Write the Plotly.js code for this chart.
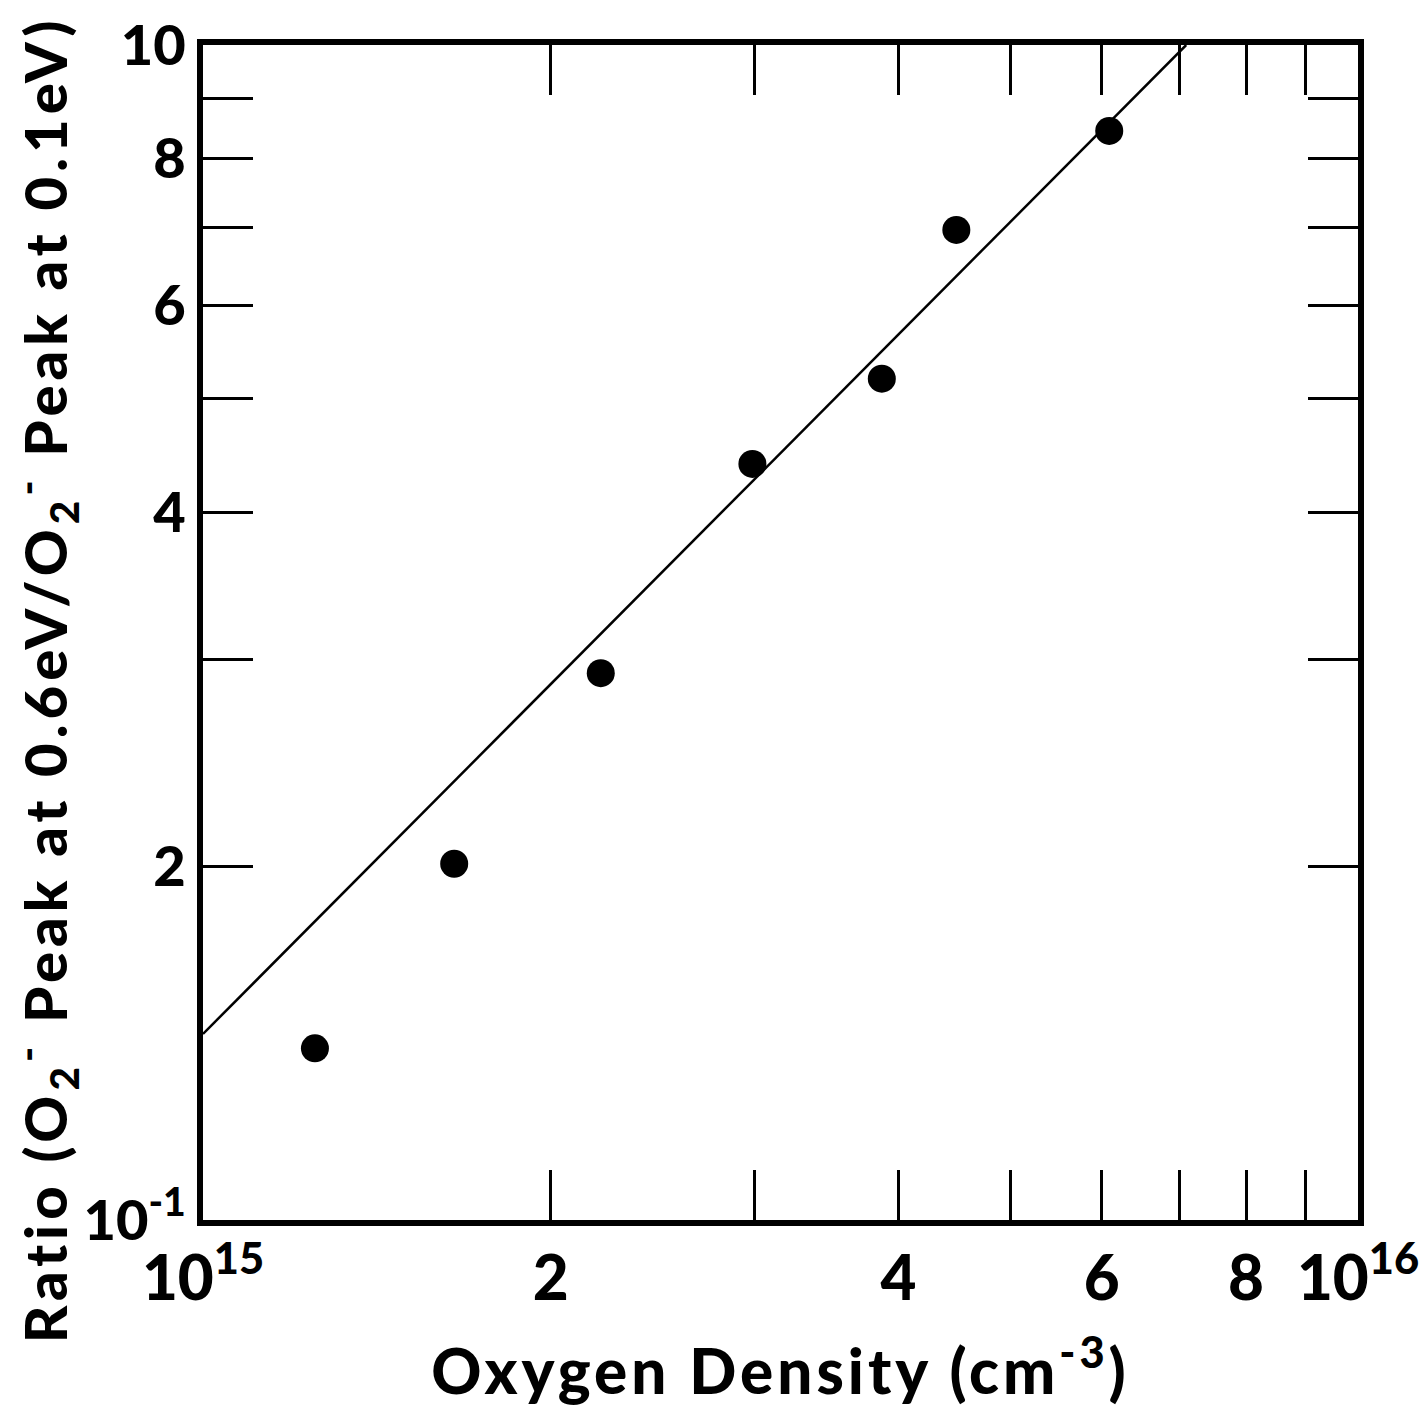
<!DOCTYPE html>
<html>
<head>
<meta charset="utf-8">
<script src="https://cdn.plot.ly/plotly-3.0.1.min.js"></script>
<style>
html, body { margin: 0; padding: 0; background: #fff; }
#chart { width: 1428px; height: 1407px; }
.xtitle { letter-spacing: 4px; }
.annotation-text { letter-spacing: 5px; }
</style>
</head>
<body>
<div id="chart"></div>
<script>
// Measured data (oxygen density in cm^-3, ratio)
const densityPoints = [1.25e15, 1.65e15, 2.21e15, 2.99e15, 3.87e15, 4.49e15, 6.09e15];
const ratioPoints   = [1.40,    2.01,    2.92,    4.40,    5.20,    6.96,    8.45];

// Fitted straight line (log-log)
const fitDensity = [1.0e15, 7.1e15];
const fitRatio   = [1.44, 10.0];

// Tick positions and labels
const xTickVals = [1e15, 2e15, 4e15, 6e15, 8e15, 1e16];
const xTickText = ['10<sup>15</sup>', '2', '4', '6', '8', '10<sup>16</sup>'];
const xMinorVals = [3e15, 5e15, 7e15, 9e15];
const yTickVals = [1, 2, 4, 6, 8, 10];
const yTickText = ['10<sup>-1</sup>', '2', '4', '6', '8', '10'];
const yMinorVals = [3, 5, 7, 9];

const xTitle = 'Oxygen Density (cm<sup>-3</sup>)';
const yTitle = 'Ratio (O<sub>2</sub><sup>-</sup> Peak at 0.6eV/O<sub>2</sub><sup>-</sup> Peak at 0.1eV)';

const FONT = 'Lato, "DejaVu Sans", sans-serif';

const traces = [
  {
    x: fitDensity, y: fitRatio, type: 'scatter', mode: 'lines',
    line: { color: '#000', width: 2.5 }, hoverinfo: 'skip', cliponaxis: true
  },
  {
    x: densityPoints, y: ratioPoints, type: 'scatter', mode: 'markers',
    marker: { color: '#000', size: 28, symbol: 'circle' }
  }
];

const tickStyle = { ticks: 'inside', ticklen: 50, tickwidth: 3, tickcolor: '#000' };

const layout = {
  width: 1428, height: 1407,
  paper_bgcolor: '#fff', plot_bgcolor: '#fff',
  showlegend: false,
  margin: { l: 203, r: 70, t: 45, b: 187 },
  font: { family: FONT, color: '#000', weight: 'bold' },
  xaxis: {
    type: 'log',
    range: [15, 16],
    tickmode: 'array', tickvals: xTickVals, ticktext: xTickText,
    ticks: 'inside', ticklen: 50, tickwidth: 3, tickcolor: '#000',
    minor: Object.assign({ tickmode: 'array', tickvals: xMinorVals, showgrid: false }, tickStyle),
    showline: true, linewidth: 6, linecolor: '#000', mirror: 'ticks',
    showgrid: false, zeroline: false,
    tickfont: { family: FONT, size: 62, color: '#000', weight: 900 },
    title: { text: xTitle, font: { family: FONT, size: 62, color: '#000', weight: 900 }, standoff: 40 }
  },
  yaxis: {
    type: 'log',
    range: [0, 1],
    tickmode: 'array', tickvals: yTickVals, ticktext: yTickText,
    ticks: 'inside', ticklen: 50, tickwidth: 3, tickcolor: '#000',
    minor: Object.assign({ tickmode: 'array', tickvals: yMinorVals, showgrid: false }, tickStyle),
    showline: true, linewidth: 6, linecolor: '#000', mirror: 'ticks',
    showgrid: false, zeroline: false,
    tickfont: { family: FONT, size: 56, color: '#000', weight: 900 }
  },
  annotations: [
    {
      text: yTitle, textangle: -90,
      xref: 'paper', yref: 'paper',
      x: -0.137, y: 0.46, xanchor: 'center', yanchor: 'middle',
      showarrow: false,
      font: { family: FONT, size: 58, color: '#000', weight: 900 }
    }
  ]
};

Plotly.newPlot('chart', traces, layout, { displayModeBar: false, staticPlot: true });
</script>
</body>
</html>
